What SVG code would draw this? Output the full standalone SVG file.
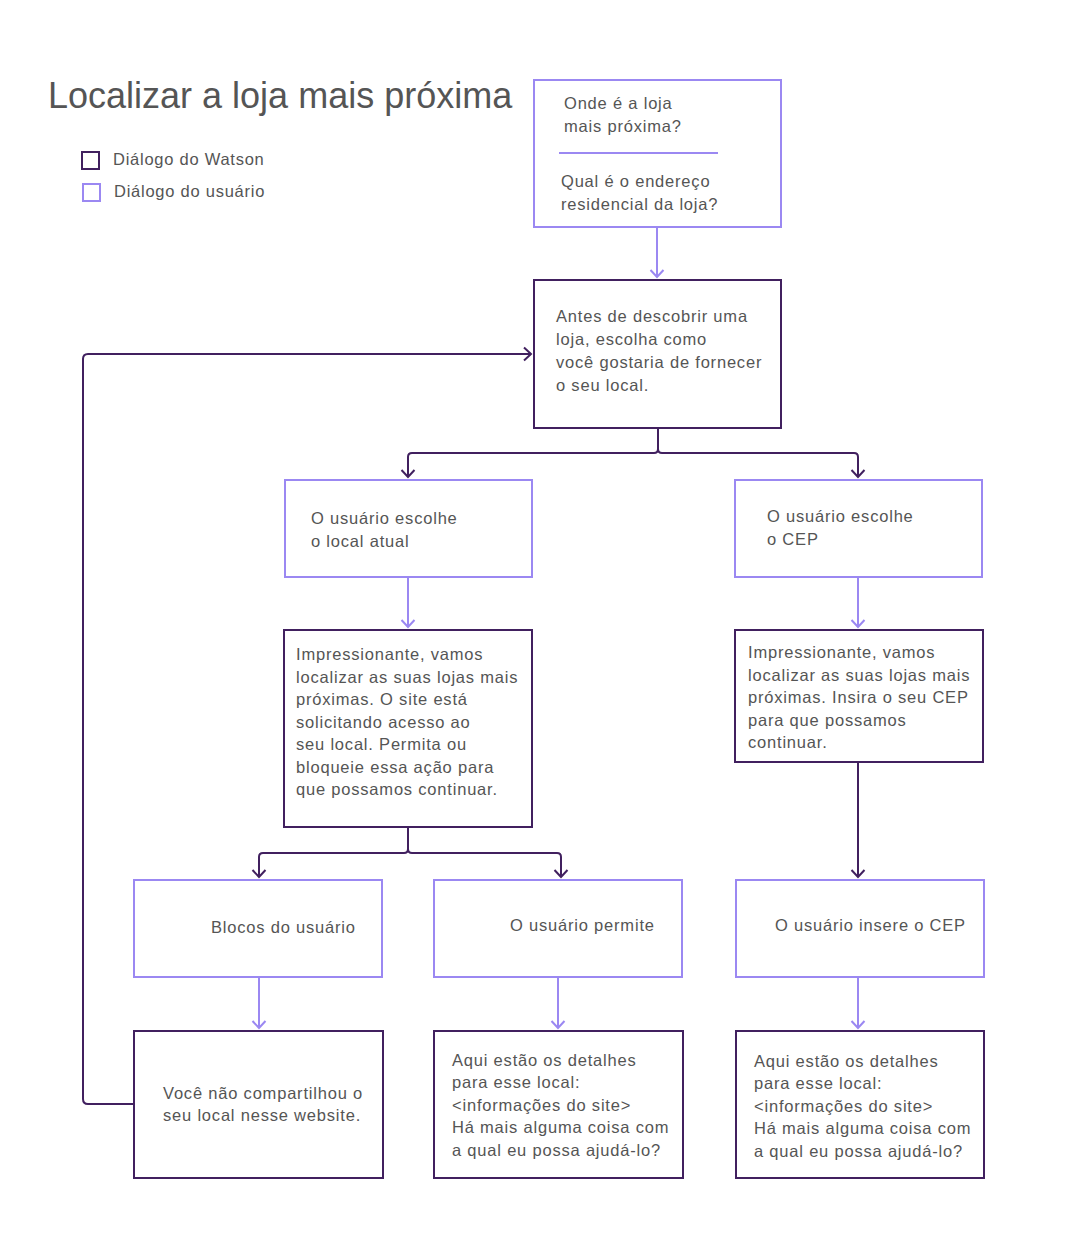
<svg xmlns="http://www.w3.org/2000/svg" width="1083" height="1257" viewBox="0 0 1083 1257">
<defs>
<style>
.t{font-family:"Liberation Sans",Arial,sans-serif;font-size:16.5px;fill:#555555;letter-spacing:0.8px}
.w{fill:#ffffff;stroke:#41205f;stroke-width:2}
.u{fill:#ffffff;stroke:#9b88f2;stroke-width:2}
.cd{fill:none;stroke:#41205f;stroke-width:2}
.cu{fill:none;stroke:#9b88f2;stroke-width:2}
</style>
<marker id="ad" markerUnits="userSpaceOnUse" markerWidth="16" markerHeight="16" viewBox="-8 -8 16 16" refX="0" refY="0" orient="auto">
<path d="M-7,-6.5 L0,0 L-7,6.5" fill="none" stroke="#41205f" stroke-width="2"/>
</marker>
<marker id="au" markerUnits="userSpaceOnUse" markerWidth="16" markerHeight="16" viewBox="-8 -8 16 16" refX="0" refY="0" orient="auto">
<path d="M-7,-6.5 L0,0 L-7,6.5" fill="none" stroke="#9b88f2" stroke-width="2"/>
</marker>
</defs>
<rect width="1083" height="1257" fill="#ffffff"/>

<g id="title">
<text x="48" y="108" style="font-family:'Liberation Sans',Arial,sans-serif;font-size:36px;fill:#555555">Localizar a loja mais próxima</text>
</g>
<g id="legend">
<rect x="82" y="152" width="17" height="17" class="w"/>
<text x="113" y="165" class="t" style="letter-spacing:0.75px">Diálogo do Watson</text>
<rect x="83" y="184" width="17" height="17" class="u"/>
<text x="114" y="197" class="t" style="letter-spacing:0.75px">Diálogo do usuário</text>
</g>

<g id="connectors">
<path d="M657,228 V277" class="cu" marker-end="url(#au)"/>
<path d="M658,428 V449 Q658,453 654,453 H412 Q408,453 408,457 V477" class="cd" marker-end="url(#ad)"/>
<path d="M658,428 V449 Q658,453 662,453 H854 Q858,453 858,457 V477" class="cd" marker-end="url(#ad)"/>
<path d="M408,578 V627" class="cu" marker-end="url(#au)"/>
<path d="M858,578 V627" class="cu" marker-end="url(#au)"/>
<path d="M408,828 V849 Q408,853 404,853 H263 Q259,853 259,857 V877" class="cd" marker-end="url(#ad)"/>
<path d="M408,828 V849 Q408,853 412,853 H557 Q561,853 561,857 V877" class="cd" marker-end="url(#ad)"/>
<path d="M858,763 V877" class="cd" marker-end="url(#ad)"/>
<path d="M259,978 V1028" class="cu" marker-end="url(#au)"/>
<path d="M558,978 V1028" class="cu" marker-end="url(#au)"/>
<path d="M858,978 V1028" class="cu" marker-end="url(#au)"/>
<path d="M134,1104 H88 Q83,1104 83,1099 V359 Q83,354 88,354 H531" class="cd" marker-end="url(#ad)"/>
</g>

<g id="n-pergunta">
<rect x="534" y="80" width="247" height="147" class="u"/>
<line x1="559" y1="153" x2="718" y2="153" stroke="#9b88f2" stroke-width="2"/>
<text class="t"><tspan x="564" y="109">Onde é a loja</tspan><tspan x="564" y="132">mais próxima?</tspan><tspan x="561" y="187">Qual é o endereço</tspan><tspan x="561" y="210">residencial da loja?</tspan></text>
</g>

<g id="n-antes">
<rect x="534" y="280" width="247" height="148" class="w"/>
<text class="t"><tspan x="556" y="322">Antes de descobrir uma</tspan><tspan x="556" y="345">loja, escolha como</tspan><tspan x="556" y="368">você gostaria de fornecer</tspan><tspan x="556" y="391">o seu local.</tspan></text>
</g>

<g id="n-local-atual">
<rect x="285" y="480" width="247" height="97" class="u"/>
<text class="t"><tspan x="311" y="524">O usuário escolhe</tspan><tspan x="311" y="547">o local atual</tspan></text>
</g>

<g id="n-cep">
<rect x="735" y="480" width="247" height="97" class="u"/>
<text class="t"><tspan x="767" y="522">O usuário escolhe</tspan><tspan x="767" y="545">o CEP</tspan></text>
</g>

<g id="n-acesso">
<rect x="284" y="630" width="248" height="197" class="w"/>
<text class="t"><tspan x="296" y="660">Impressionante, vamos</tspan><tspan x="296" y="683">localizar as suas lojas mais</tspan><tspan x="296" y="705">próximas. O site está</tspan><tspan x="296" y="728">solicitando acesso ao</tspan><tspan x="296" y="750">seu local. Permita ou</tspan><tspan x="296" y="773">bloqueie essa ação para</tspan><tspan x="296" y="795">que possamos continuar.</tspan></text>
</g>

<g id="n-insira-cep">
<rect x="735" y="630" width="248" height="132" class="w"/>
<text class="t"><tspan x="748" y="658">Impressionante, vamos</tspan><tspan x="748" y="681">localizar as suas lojas mais</tspan><tspan x="748" y="703">próximas. Insira o seu CEP</tspan><tspan x="748" y="726">para que possamos</tspan><tspan x="748" y="748">continuar.</tspan></text>
</g>

<g id="n-blocos">
<rect x="134" y="880" width="248" height="97" class="u"/>
<text class="t"><tspan x="211" y="933">Blocos do usuário</tspan></text>
</g>

<g id="n-permite">
<rect x="434" y="880" width="248" height="97" class="u"/>
<text class="t"><tspan x="510" y="931">O usuário permite</tspan></text>
</g>

<g id="n-insere-cep">
<rect x="736" y="880" width="248" height="97" class="u"/>
<text class="t"><tspan x="775" y="931">O usuário insere o CEP</tspan></text>
</g>

<g id="n-nao-compartilhou">
<rect x="134" y="1031" width="249" height="147" class="w"/>
<text class="t"><tspan x="163" y="1099">Você não compartilhou o</tspan><tspan x="163" y="1121">seu local nesse website.</tspan></text>
</g>

<g id="n-detalhes-1">
<rect x="434" y="1031" width="249" height="147" class="w"/>
<text class="t"><tspan x="452" y="1066">Aqui estão os detalhes</tspan><tspan x="452" y="1088">para esse local:</tspan><tspan x="452" y="1111">&lt;informações do site&gt;</tspan><tspan x="452" y="1133">Há mais alguma coisa com</tspan><tspan x="452" y="1156">a qual eu possa ajudá-lo?</tspan></text>
</g>

<g id="n-detalhes-2">
<rect x="736" y="1031" width="248" height="147" class="w"/>
<text class="t"><tspan x="754" y="1067">Aqui estão os detalhes</tspan><tspan x="754" y="1089">para esse local:</tspan><tspan x="754" y="1112">&lt;informações do site&gt;</tspan><tspan x="754" y="1134">Há mais alguma coisa com</tspan><tspan x="754" y="1157">a qual eu possa ajudá-lo?</tspan></text>
</g>
</svg>
